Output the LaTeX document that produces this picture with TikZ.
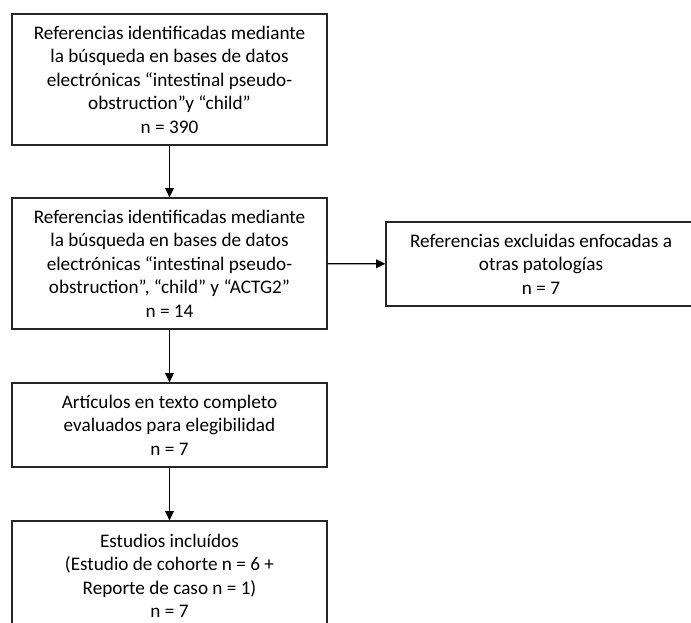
\documentclass[tikz,border=0pt]{standalone}
\usepackage{fontspec}
\setmainfont{Carlito}
\usetikzlibrary{arrows.meta}

\begin{document}
\begin{tikzpicture}[
    x=0.75pt, y=-0.75pt,
    box/.style={rectangle, draw=black!85, line width=0.9pt, align=center, inner sep=0pt,
        font=\fontsize{14.4}{17.6}\selectfont},
    flow/.style={-{Triangle[length=7pt, width=6.5pt]}, line width=0.9pt, draw=black}
]

\useasboundingbox (0, 0) rectangle (691, 622);

\node[box, minimum width=236.25pt, minimum height=98.25pt] (busqueda) at (169.5, 79.5)
    {Referencias identificadas mediante\\la búsqueda en bases de datos\\electrónicas “intestinal pseudo-\\obstruction”y “child”\\n = 390};
\node[box, minimum width=236.25pt, minimum height=98.25pt] (actg) at (169.5, 263.5)
    {Referencias identificadas mediante\\la búsqueda en bases de datos\\electrónicas “intestinal pseudo-\\obstruction”, “child” y “ACTG2”\\n = 14};
\node[box, minimum width=232.5pt, minimum height=63pt] (excluidas) at (541, 264)
    {Referencias excluidas enfocadas a\\otras patologías\\n = 7};
\node[box, minimum width=236.25pt, minimum height=63pt] (articulos) at (169.5, 425)
    {Artículos en texto completo\\evaluados para elegibilidad\\n = 7};
\node[box, minimum width=236.25pt, minimum height=82.5pt] (incluidos) at (169.5, 576)
    {Estudios incluídos\\(Estudio de cohorte n = 6 +\\Reporte de caso n = 1)\\n = 7};

\draw[flow] (busqueda) -- (actg);
\draw[flow] (actg) -- (excluidas);
\draw[flow] (actg) -- (articulos);
\draw[flow] (articulos) -- (incluidos);

\end{tikzpicture}
\end{document}
